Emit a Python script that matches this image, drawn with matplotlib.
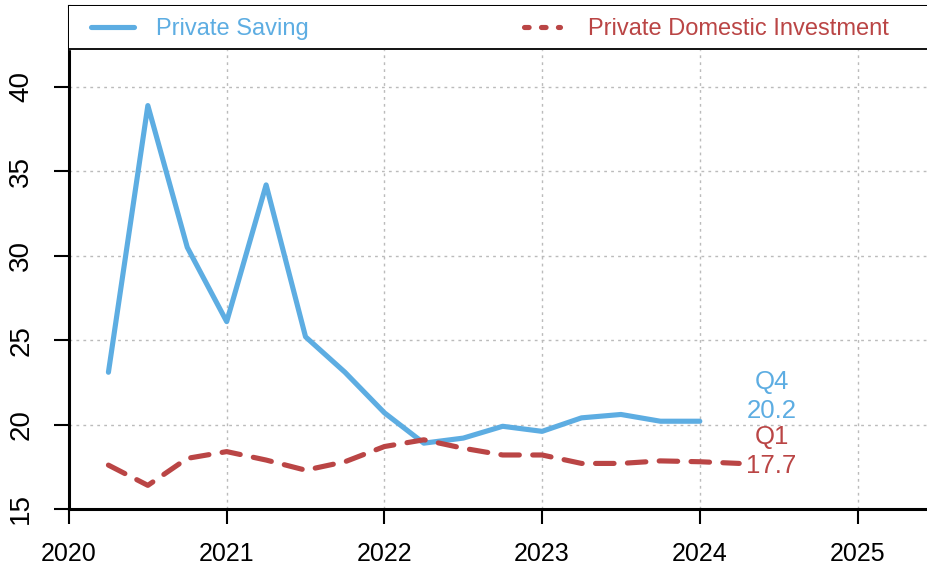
import matplotlib
matplotlib.use("Agg")
import matplotlib.pyplot as plt
import matplotlib.transforms as mtransforms
from matplotlib.lines import Line2D

plt.rcParams['font.family'] = ['Liberation Sans', 'DejaVu Sans']

# Data (quarter-end positions)
saving_x = [2020.25, 2020.5, 2020.75, 2021.0, 2021.25, 2021.5, 2021.75, 2022.0,
            2022.25, 2022.5, 2022.75, 2023.0, 2023.25, 2023.5, 2023.75, 2024.0]
saving_y = [23.1, 38.9, 30.5, 26.1, 34.2, 25.2, 23.1, 20.7,
            18.9, 19.2, 19.9, 19.6, 20.4, 20.6, 20.2, 20.2]
invest_x = [2020.25, 2020.5, 2020.75, 2021.0, 2021.25, 2021.5, 2021.75, 2022.0,
            2022.25, 2022.5, 2022.75, 2023.0, 2023.25, 2023.5, 2023.75, 2024.0, 2024.25]
invest_y = [17.6, 16.4, 18.0, 18.4, 17.9, 17.3, 17.8, 18.7,
            19.1, 18.6, 18.2, 18.2, 17.7, 17.7, 17.85, 17.8, 17.7]
x_ticks = [2020, 2021, 2022, 2023, 2024, 2025]
y_ticks = [15, 20, 25, 30, 35, 40]
series_names = ["Private Saving", "Private Domestic Investment"]
end_labels = [("Q4", "20.2"), ("Q1", "17.7")]

blue = "#5DADE2"
red = "#BA4545"

fig = plt.figure(figsize=(9.27, 5.74), dpi=100)
ax = fig.add_axes([69/927, 1 - 509/574, 1 - 69/927, (509 - 6)/574])
ax.set_xlim(2020, 2020 + (927 - 69) / 157.7)
ax.set_ylim(15, 40 + (87 - 6) / 16.88)

ax.grid(True, color="#BBBBBB", linestyle=(0, (2, 3)), linewidth=1.0)
ax.set_axisbelow(True)

ax.plot(saving_x, saving_y, color=blue, lw=3.7, solid_capstyle='round',
        solid_joinstyle='round', zorder=4)
ax.plot(invest_x, invest_y, color=red, lw=3.7, dashes=(3.6, 2.6),
        dash_capstyle='round', dash_joinstyle='round', zorder=4)

# end labels
lx = 2024.455
ax.text(lx, saving_y[-1] + 2.5, end_labels[0][0], color=blue, fontsize=18.5, ha='center', va='center_baseline')
ax.text(lx, saving_y[-1] + 0.78, end_labels[0][1], color=blue, fontsize=18.5, ha='center', va='center_baseline')
ax.text(lx, invest_y[-1] + 1.74, end_labels[1][0], color=red, fontsize=18.5, ha='center', va='center_baseline')
ax.text(lx, invest_y[-1] + 0.02, end_labels[1][1], color=red, fontsize=18.5, ha='center', va='center_baseline')

# legend panel at top
leg_bottom = 40 + (87 - 49) / 16.88
ax.axhspan(leg_bottom, 50, color='white', zorder=5)
ax.axhline(leg_bottom, color='black', lw=1.3, zorder=6)
ly = 40 + (87 - 27) / 16.88
blend = mtransforms.blended_transform_factory(ax.transAxes, ax.transData)
ax.add_line(Line2D([(91 - 69) / 858, (134 - 69) / 858], [ly, ly], transform=blend,
                   color=blue, lw=3.7, solid_capstyle='round', zorder=7))
ax.add_line(Line2D([(524 - 69) / 858, (560 - 69) / 858], [ly, ly], transform=blend,
                   color=red, lw=3.7, dashes=(0.9, 2.4), dash_capstyle='round', zorder=7))
ax.text((156 - 69) / 858, ly, series_names[0], transform=blend, color=blue,
        fontsize=17, va='center_baseline', ha='left', zorder=7)
ax.text((588 - 69) / 858, ly, series_names[1], transform=blend, color=red,
        fontsize=17, va='center_baseline', ha='left', zorder=7)

ax.set_xticks(x_ticks)
ax.set_xticklabels([str(v) for v in x_ticks])
ax.set_yticks(y_ticks)
ax.set_yticklabels([str(v) for v in y_ticks], rotation=90, va='center')
ax.tick_params(axis='both', length=11, width=1.5, labelsize=18, pad=13, direction='out')
ax.tick_params(axis='y', labelsize=20, pad=14)

for s in ['left', 'bottom', 'top']:
    ax.spines[s].set_linewidth(2.2)
ax.spines['right'].set_visible(False)

fig.savefig("out.png", dpi=100)
